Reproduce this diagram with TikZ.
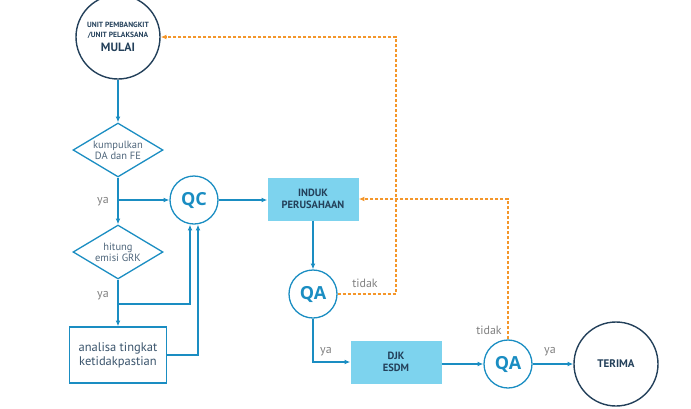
\documentclass[tikz,border=0pt]{standalone}
\usepackage{fontspec}
\setmainfont{PT Sans}
\newfontfamily\checkfont{Open Sans}
\usetikzlibrary{arrows.meta, shapes.geometric}

\definecolor{flowblue}{HTML}{1A8DC2}
\definecolor{boxblue}{HTML}{7DD3EE}
\definecolor{navy}{HTML}{23405A}
\definecolor{dashorange}{HTML}{F4962A}
\definecolor{labelgray}{HTML}{808080}

\begin{document}
\begin{tikzpicture}[
    x=1pt, y=-1pt,
    arrow/.style={-{Latex[length=2mm, width=1.7mm]}, draw=flowblue, line width=1.3pt},
    dasharrow/.style={-{Latex[length=2mm, width=1.7mm]}, draw=dashorange, line width=1.3pt,
        dash pattern=on 3pt off 2pt},
    endpoint/.style={
        circle,
        minimum size=84pt,
        inner sep=0pt,
        align=center,
        draw=navy,
        line width=1.4pt,
        text=navy,
        font=\bfseries\fontsize{11}{12}\selectfont
    },
    check/.style={
        circle,
        minimum size=48pt,
        inner sep=0pt,
        draw=flowblue,
        line width=1.3pt,
        text=flowblue,
        font=\checkfont\bfseries\fontsize{18}{20}\selectfont
    },
    decide/.style={
        diamond,
        aspect=1.67,
        minimum width=90pt,
        minimum height=54pt,
        inner sep=0pt,
        align=center,
        draw=flowblue,
        line width=1.3pt,
        text=navy!80,
        font=\fontsize{10.5}{11}\selectfont
    },
    task/.style={
        rectangle,
        minimum width=97pt,
        minimum height=56pt,
        align=center,
        draw=flowblue,
        line width=1.3pt,
        text=navy!90,
        font=\fontsize{12.5}{14}\selectfont
    },
    office/.style={
        rectangle,
        minimum width=91pt,
        minimum height=43pt,
        align=center,
        fill=boxblue,
        text=navy,
        font=\fontsize{10.5}{11.5}\selectfont\bfseries
    },
    answer/.style={text=labelgray, font=\fontsize{12}{12}\selectfont}
]
\useasboundingbox (0,0) rectangle (691,408);

% start and end
\node[endpoint, font=\bfseries\fontsize{7.5}{9.5}\selectfont] (mulai) at (118,37) {%
    UNIT PEMBANGKIT\\/UNIT PELAKSANA\\[4pt]
    \fontsize{12}{13}\selectfont MULAI};
\node[endpoint] (terima) at (616,364) {TERIMA};

% left column
\node[decide] (kumpul) at (118,150) {kumpulkan\\DA dan FE};
\node[decide] (hitung) at (118,252) {hitung\\emisi GRK};
\node[task] (analisa) at (118,355) {analisa tingkat\\ketidakpastian};

% checks
\node[check] (qc) at (194,200) {QC};
\node[check] (qa1) at (313,294) {QA};
\node[check] (qa2) at (508,364) {QA};

% offices
\node[office] (induk) at (313,199) {INDUK\\PERUSAHAAN};
\node[office] (djk) at (396,362) {DJK\\ESDM};

% helper points
\coordinate (split1) at (118,200);
\coordinate (split2) at (118,304);
\coordinate (back1) at (396,37);

\draw[arrow] (mulai) -- (kumpul);
\draw[arrow] (kumpul) -- (hitung);
\draw[arrow] (split1) -- (qc.west);
\draw[arrow] (hitung) -- (analisa);
\draw[arrow] (split2) -| ([xshift=-4pt]qc.south);
\draw[arrow] (analisa.east) -| ([xshift=4pt]qc.south);
\draw[arrow] (qc.east) -- (qc.east -| induk.west);
\draw[arrow] (induk) -- (qa1);
\draw[arrow] (qa1.south) |- (djk.west);
\draw[arrow] (djk.east |- qa2.west) -- (qa2.west);
\draw[arrow] (qa2) -- (terima);

% rejected paths
\draw[dasharrow] (qa1.east) -| (back1) -- (mulai.east);
\draw[dasharrow] (qa2.north) |- (induk.east);

% labels
\node[answer] (ya1) at (103,202) {ya};
\node[answer] (ya2) at (103,296) {ya};
\node[answer] (ya3) at (326,352) {ya};
\node[answer] (ya4) at (550,352) {ya};
\node[answer] (tidak1) at (365,283) {tidak};
\node[answer] (tidak2) at (489,330) {tidak};

\end{tikzpicture}
\end{document}
